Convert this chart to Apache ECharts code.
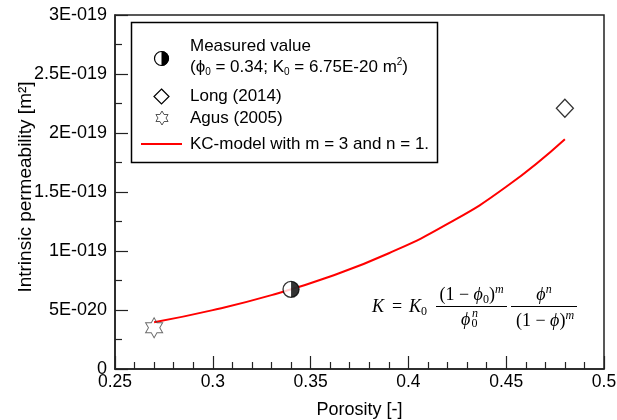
<!DOCTYPE html>
<html>
<head>
<meta charset="utf-8">
<script src="https://cdn.jsdelivr.net/npm/echarts@6/dist/echarts.min.js"></script>
<style>html,body{margin:0;padding:0;background:#fff;}#c{width:617px;height:420px;}</style>
</head>
<body>
<div id="c"></div>
<script>
// ---- data ----
const xTickLabels = ['0.25', '0.3', '0.35', '0.4', '0.45', '0.5'];
const yTickLabels = ['0', '5E-020', '1E-019', '1.5E-019', '2E-019', '2.5E-019', '3E-019'];
const kcPorosity = [0.27, 0.30, 0.33, 0.36, 0.39, 0.42, 0.45, 0.48];
const kcPermeability = [3.96e-20, 4.99e-20, 6.26e-20, 7.84e-20, 9.81e-20, 1.229e-19, 1.544e-19, 1.948e-19];
const measuredPorosity = [0.34];
const measuredPermeability = [6.75e-20];
const longPorosity = [0.48];
const longPermeability = [2.21e-19];
const agusPorosity = [0.27];
const agusPermeability = [3.5e-20];

const Y_UNIT = 1e-20; // plotting unit
const pts = (xs, ys) => xs.map((x, i) => [x, ys[i] / Y_UNIT]);

const SANS = '"Liberation Sans", Arial, sans-serif';
const SERIF = '"Liberation Serif", "DejaVu Serif", serif';
const AX = '#222';

const starPath = 'path://M0,-100 L28.87,-50 L86.6,-50 L57.7,0 L86.6,50 L28.87,50 L0,100 L-28.87,50 L-86.6,50 L-57.7,0 L-86.6,-50 L-28.87,-50 Z';
const rightHalf = 'path://M0,0 A50,50 0 0,1 0,100 Z';

function starPoints(cx, cy, R) {
  const p = [];
  for (let k = 0; k < 12; k++) {
    const a = -Math.PI / 2 + k * Math.PI / 6;
    const r = k % 2 === 0 ? R : R / Math.sqrt(3);
    p.push([cx + r * Math.cos(a), cy + r * Math.sin(a)]);
  }
  return p;
}

function txt(x, y, text, extra) {
  const st = Object.assign({
    text: text, x: 0, y: 0, fill: '#000',
    fontFamily: SANS, fontSize: 17,
    align: 'left', verticalAlign: 'middle',
    textAlign: 'left', textVerticalAlign: 'middle'
  }, extra || {});
  return { type: 'text', x: x, y: y, style: st, z: 100 };
}

const mathRich = {
  i: { fontFamily: SERIF, fontStyle: 'italic', fontSize: 18, lineHeight: 22, verticalAlign: 'middle' },
  n: { fontFamily: SERIF, fontSize: 18, lineHeight: 22, verticalAlign: 'middle' },
  s: { fontFamily: SERIF, fontSize: 12, lineHeight: 12, verticalAlign: 'bottom' },
  p: { fontFamily: SERIF, fontStyle: 'italic', fontSize: 12, lineHeight: 12, verticalAlign: 'top' }
};
function mtxt(x, y, text, align) {
  return {
    type: 'text', x: x, y: y, z: 100,
    style: {
      text: text, fill: '#000', fontFamily: SERIF, fontSize: 18, lineHeight: 22,
      align: align || 'left', verticalAlign: 'middle',
      textAlign: align || 'left', textVerticalAlign: 'middle',
      rich: mathRich
    }
  };
}
function small(x, y, text, italic) {
  return { type: 'text', x: x, y: y, z: 100, style: {
    text: text, fill: '#000', fontFamily: SERIF, fontStyle: italic ? 'italic' : 'normal', fontSize: 12,
    align: 'left', verticalAlign: 'middle', textAlign: 'left', textVerticalAlign: 'middle' } };
}

const legendRich = {
  sub: { fontFamily: SANS, fontSize: 10, lineHeight: 10, verticalAlign: 'bottom' },
  sup: { fontFamily: SANS, fontSize: 10, lineHeight: 10, verticalAlign: 'top' }
};

const graphics = [
  // legend frame
  { type: 'rect', shape: { x: 131.5, y: 22.5, width: 306, height: 140 },
    style: { fill: '#fff', stroke: '#000', lineWidth: 1.5 }, z: 90 },
  // measured symbol
  { type: 'circle', shape: { cx: 161.5, cy: 58.5, r: 7 }, style: { fill: '#fff', stroke: '#000', lineWidth: 1.2 }, z: 100 },
  { type: 'sector', shape: { cx: 161.5, cy: 58.5, r0: 0, r: 7.4, startAngle: -Math.PI / 2, endAngle: Math.PI / 2, clockwise: true },
    style: { fill: '#000' }, z: 101 },
  txt(190, 46, 'Measured value'),
  txt(190, 67, '(ϕ{sub|0} = 0.34; K{sub|0} = 6.75E-20 m{sup|2})', { lineHeight: 20, rich: legendRich }),
  // Long symbol
  { type: 'polygon', shape: { points: [[161.5, 89], [169, 96.5], [161.5, 104], [154, 96.5]] },
    style: { fill: 'none', stroke: '#000', lineWidth: 1.2 }, z: 100 },
  txt(190, 96, 'Long (2014)'),
  // Agus symbol
  { type: 'polygon', shape: { points: starPoints(162, 118, 7) },
    style: { fill: 'none', stroke: '#444', lineWidth: 0.9 }, z: 100 },
  txt(190, 118, 'Agus (2005)'),
  // KC line
  { type: 'line', shape: { x1: 141, y1: 144, x2: 182, y2: 144 }, style: { stroke: '#ff0000', lineWidth: 2 }, z: 100 },
  txt(190, 144, 'KC-model with m = 3 and n = 1.'),

  // formula
  mtxt(372, 307, '{i|K}'),
  mtxt(392, 307, '{n|=}'),
  mtxt(409, 307, '{i|K}{s|0}'),
  mtxt(471.5, 295, '{n|(1 − }{i|ϕ}{s|0}{n|)}{p|m}', 'center'),
  { type: 'line', shape: { x1: 436, y1: 306.5, x2: 507, y2: 306.5 }, style: { stroke: '#000', lineWidth: 1 }, z: 100 },
  mtxt(461, 320, '{i|ϕ}'),
  small(471.5, 324, '0', false),
  small(472, 314, 'n', true),
  mtxt(544, 295, '{i|ϕ}{p|n}', 'center'),
  { type: 'line', shape: { x1: 511, y1: 306.5, x2: 577, y2: 306.5 }, style: { stroke: '#000', lineWidth: 1 }, z: 100 },
  mtxt(545, 321, '{n|(1 − }{i|ϕ}{n|)}{p|m}', 'center')
];

const option = {
  backgroundColor: '#fff',
  animation: false,
  grid: { left: 115, right: 13, top: 15, bottom: 51, show: true, borderColor: AX, borderWidth: 1.5,
          backgroundColor: 'transparent', containLabel: false, outerBoundsMode: 'none' },
  xAxis: {
    type: 'value', min: 0.25, max: 0.5, interval: 0.05,
    name: 'Porosity [-]', nameLocation: 'middle', nameGap: 32, nameMoveOverlap: false,
    nameTextStyle: { fontFamily: SANS, fontSize: 18, color: '#000' },
    axisLine: { show: true, onZero: false, lineStyle: { color: AX, width: 1.5 } },
    axisTick: { show: true, inside: true, length: 13, lineStyle: { color: AX, width: 1.2 } },
    minorTick: { show: true, splitNumber: 5, length: 7, lineStyle: { color: AX, width: 1.2 } },
    splitLine: { show: false },
    axisLabel: {
      margin: 4, fontFamily: SANS, fontSize: 17.5, color: '#000', hideOverlap: false,
      formatter: (v, i) => xTickLabels[i] !== undefined ? xTickLabels[i] : ''
    }
  },
  yAxis: {
    type: 'value', min: 0, max: 3e-19 / Y_UNIT, interval: 5e-20 / Y_UNIT,
    name: 'Intrinsic permeability [m²]', nameLocation: 'middle', nameGap: 80, nameMoveOverlap: false,
    nameTextStyle: { fontFamily: SANS, fontSize: 19, color: '#000', padding: [0, 0, 0, 10] },
    axisLine: { show: true, onZero: false, lineStyle: { color: AX, width: 1.5 } },
    axisTick: { show: true, inside: true, length: 13, lineStyle: { color: AX, width: 1.2 } },
    minorTick: { show: true, splitNumber: 2, length: 7, lineStyle: { color: AX, width: 1.2 } },
    splitLine: { show: false },
    axisLabel: {
      margin: 8, fontFamily: SANS, fontSize: 18, color: '#000', hideOverlap: false,
      formatter: (v, i) => yTickLabels[i] !== undefined ? yTickLabels[i] : ''
    }
  },
  series: [
    {
      name: 'KC-model', type: 'line', smooth: true, showSymbol: false, symbol: 'none',
      data: pts(kcPorosity, kcPermeability),
      lineStyle: { color: '#ff0000', width: 2 }, z: 2
    },
    {
      name: 'Agus (2005)', type: 'scatter', symbol: starPath, symbolSize: [17, 20],
      data: pts(agusPorosity, agusPermeability),
      itemStyle: { color: 'rgba(0,0,0,0)', borderColor: '#444', borderWidth: 1 }, z: 3
    },
    {
      name: 'Long (2014)', type: 'scatter', symbol: 'diamond', symbolSize: [17, 18],
      data: pts(longPorosity, longPermeability),
      itemStyle: { color: 'rgba(0,0,0,0)', borderColor: '#000', borderWidth: 1.3 }, z: 3
    },
    {
      name: 'Measured', type: 'scatter', symbol: 'circle', symbolSize: 16,
      data: pts(measuredPorosity, measuredPermeability),
      itemStyle: { color: '#fff', borderColor: '#000', borderWidth: 1.3 }, z: 4
    },
    {
      name: 'Measured half', type: 'scatter', symbol: rightHalf, symbolSize: [8, 16], symbolOffset: [4, 0],
      data: pts(measuredPorosity, measuredPermeability),
      itemStyle: { color: '#000' }, z: 5
    }
  ],
  graphic: graphics
};

const chart = echarts.init(document.getElementById('c'), null, { renderer: 'canvas' });
chart.setOption(option);
</script>
</body>
</html>
